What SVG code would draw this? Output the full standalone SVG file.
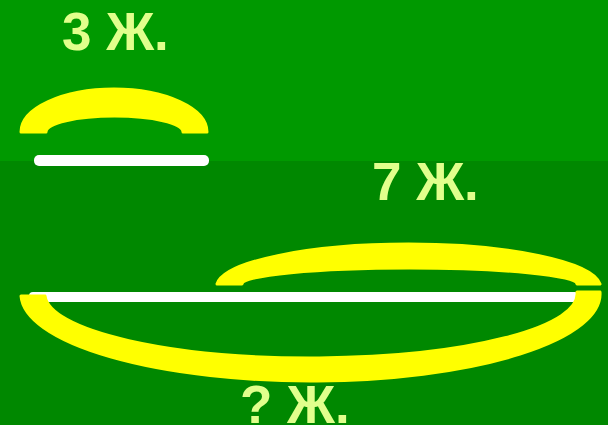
<svg xmlns="http://www.w3.org/2000/svg" width="608" height="425" viewBox="0 0 608 425">
<style>
.lbl{font-family:"Liberation Sans",Arial,sans-serif;font-weight:bold;font-size:53px;fill:#E1FF8C}
.brace{fill:#FFFF00;stroke:#FFFF00;stroke-width:3;stroke-linejoin:round}
.seg{fill:#FFFFFF}
</style>
<rect x="0" y="0" width="608" height="161" fill="#009900"/>
<rect x="0" y="161" width="608" height="264" fill="#008800"/>
<g id="segments">
<rect id="seg-small" class="seg" x="34" y="155" width="175" height="11" rx="5"/>
<rect id="seg-long" class="seg" x="29" y="292" width="550" height="10" rx="4"/>
</g>
<g id="connectors">
<path id="brace-3" class="brace" d="M21,132 A93,43 0 0 1 207,132 L183,132 A68.5,16 0 0 0 46,132 Z"/>
<path id="brace-7" class="brace" d="M217,284 A192,43 0 0 1 600,284 L577,284 A167.5,16 0 0 0 242,284 Z"/>
<path id="brace-q" class="brace" d="M21,296 A289.5,87 0 0 0 600,292 L577,292 A266,64 0 0 1 45,296 Z"/>
</g>
<g id="label-3"><text class="lbl" x="62" y="50">3 Ж.</text></g>
<g id="label-7"><text class="lbl" x="372" y="200">7 Ж.</text></g>
<g id="label-q"><text class="lbl" x="240" y="423">? Ж.</text></g>
</svg>
